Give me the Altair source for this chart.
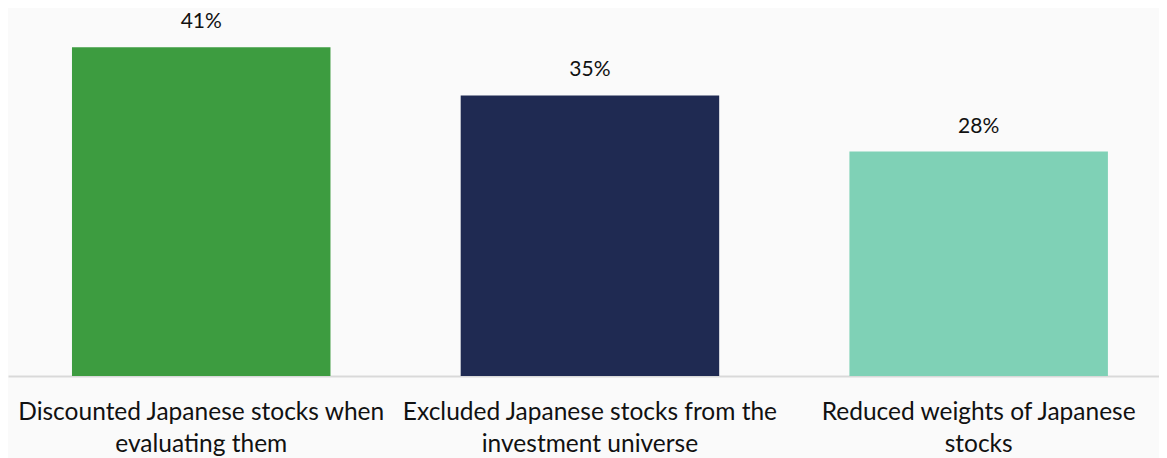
import altair as alt
import pandas as pd

categories = [
    "Discounted Japanese stocks when|evaluating them",
    "Excluded Japanese stocks from the|investment universe",
    "Reduced weights of Japanese|stocks",
]
values = [41, 35, 28]
colors = ["#3d9c40", "#1f2a52", "#7fd1b6"]

df = pd.DataFrame({"category": categories, "value": values})

FONT = "Lato"

x = alt.X(
    "category:N",
    sort=categories,
    scale=alt.Scale(paddingInner=0.335, paddingOuter=0.148, align=0.556),
    axis=alt.Axis(
        title=None,
        labelAngle=0,
        labelExpr="split(datum.label, '|')",
        labelFont=FONT,
        labelFontSize=24.5,
        labelColor="#111111",
        labelLineHeight=32,
        labelBaseline="top",
        labelPadding=24,
        labelOverlap=False,
        labelLimit=0,
        ticks=False,
        domainColor="#d9d9d9",
        domainWidth=2,
        grid=False,
    ),
)
y = alt.Y("value:Q", scale=alt.Scale(domain=[0, 45.9], nice=False), axis=None)

bars = alt.Chart(df).mark_bar().encode(
    x=x,
    y=y,
    color=alt.Color("category:N", scale=alt.Scale(domain=categories, range=colors), legend=None),
)

text = alt.Chart(df).transform_calculate(label="datum.value + '%'").mark_text(
    font=FONT, fontSize=21, color="#111111", dy=-19, baseline="alphabetic"
).encode(x=alt.X("category:N", sort=categories), y=y, text="label:N")

chart = (
    alt.layer(bars, text)
    .properties(
        width=1151,
        height=368,
        autosize=alt.AutoSizeParams(type="none"),
        padding={"left": 0, "top": 0, "right": 0, "bottom": 82},
        background="#fafafa",
    )
    .configure_view(stroke=None)
)

chart.save("out.html", embed_options={"renderer": "svg", "actions": False})
